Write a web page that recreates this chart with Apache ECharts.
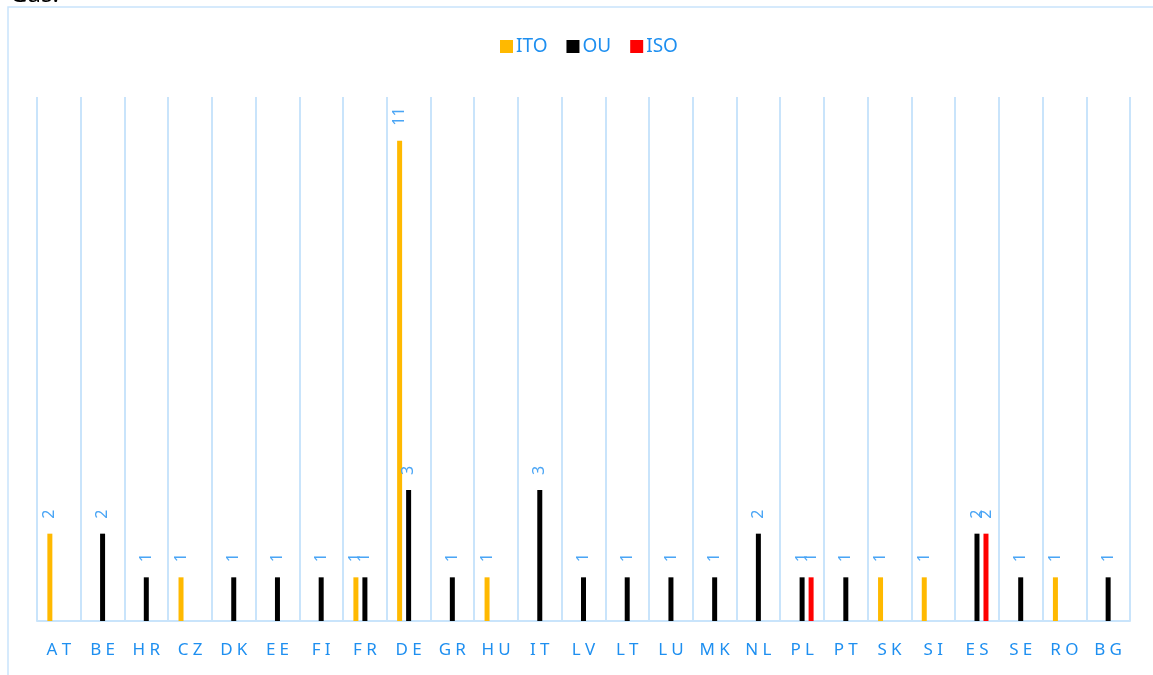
<!DOCTYPE html>
<html>
<head>
<meta charset="utf-8">
<script src="https://cdn.jsdelivr.net/npm/echarts@6/dist/echarts.min.js"></script>
<style>
  html, body { margin: 0; padding: 0; background: #ffffff; }
  #chart { width: 1153px; height: 675px; }
</style>
</head>
<body>
<div id="chart"></div>
<script>
// Country codes along the horizontal axis
const countries = ['AT', 'BE', 'HR', 'CZ', 'DK', 'EE', 'FI', 'FR', 'DE', 'GR', 'HU', 'IT', 'LV',
                   'LT', 'LU', 'MK', 'NL', 'PL', 'PT', 'SK', 'SI', 'ES', 'SE', 'RO', 'BG'];

// Counts per country (null = none)
const ito = [2, null, null, 1, null, null, null, 1, 11, null, 1, null, null,
             null, null, null, null, null, null, 1, 1, null, null, 1, null];
const ou  = [null, 2, 1, null, 1, 1, 1, 1, 3, 1, null, 3, 1,
             1, 1, 1, 2, 1, 1, null, null, 2, 1, null, 1];
const iso = [null, null, null, null, null, null, null, null, null, null, null, null, null,
             null, null, null, null, 1, null, null, null, 2, null, null, null];

const seriesNames = ['ITO', 'OU', 'ISO'];
const seriesColors = ['#ffb900', '#000000', '#ff0000'];

const FONT = '"Noto Sans", "Open Sans", sans-serif';
const BLUE = '#1e8ff0';
const LINE_BLUE = '#c9e4fb';

const chart = echarts.init(document.getElementById('chart'), null, { renderer: 'canvas' });

function barSeries(name, data, color) {
  return {
    name: name,
    type: 'bar',
    data: data,
    barWidth: 5,
    barGap: '80%',
    itemStyle: { color: color },
    label: {
      show: true,
      position: 'top',
      rotate: 90,
      align: 'left',
      verticalAlign: 'middle',
      distance: 15,
      color: '#4aa5f5',
      fontFamily: FONT,
      fontSize: 16
    }
  };
}

chart.setOption({
  animation: false,
  backgroundColor: '#ffffff',
  graphic: [
    {
      type: 'text',
      left: 10,
      top: -17,
      style: { text: 'Gas:', font: '24px ' + FONT, fill: '#000000' }
    },
    {
      type: 'rect',
      shape: { x: 8, y: 7, width: 1160, height: 700 },
      style: { fill: 'none', stroke: LINE_BLUE, lineWidth: 1.5 },
      silent: true
    }
  ],
  legend: {
    top: 32,
    left: 495,
    itemWidth: 13,
    itemHeight: 13,
    itemGap: 19,
    icon: 'rect',
    textStyle: { color: BLUE, fontFamily: FONT, fontSize: 19, padding: [0, 0, 0, -2] },
    data: seriesNames
  },
  grid: { left: 37, right: 23, top: 97, bottom: 54, containLabel: false },
  xAxis: {
    type: 'category',
    data: countries,
    axisLine: { lineStyle: { color: LINE_BLUE, width: 2 } },
    axisTick: { show: false },
    splitLine: { show: true, lineStyle: { color: LINE_BLUE, width: 2 } },
    axisLabel: {
      color: BLUE,
      fontFamily: FONT,
      fontSize: 17,
      margin: 21,
      formatter: v => v.split('').join('\u2005')
    }
  },
  yAxis: {
    type: 'value',
    min: 0,
    max: 12,
    interval: 1,
    show: false,
    splitLine: { show: false }
  },
  series: [
    barSeries(seriesNames[0], ito, seriesColors[0]),
    barSeries(seriesNames[1], ou, seriesColors[1]),
    barSeries(seriesNames[2], iso, seriesColors[2])
  ]
});
</script>
</body>
</html>
